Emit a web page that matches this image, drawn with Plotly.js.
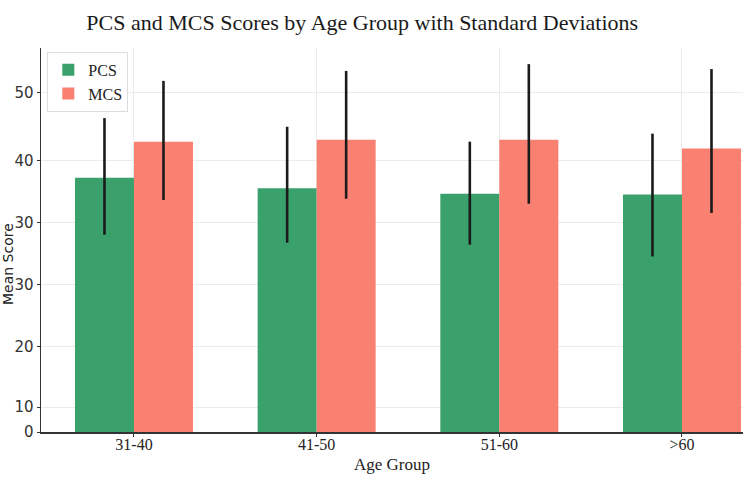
<!DOCTYPE html>
<html>
<head>
<meta charset="utf-8">
<script src="https://cdn.plot.ly/plotly-3.0.1.min.js"></script>
<style>
  html, body { margin: 0; padding: 0; background: #ffffff; }
  #chart { width: 750px; height: 500px; }
</style>
</head>
<body>
<div id="chart"></div>
<script>
// Age groups on the x axis
const ageGroups = ['31-40', '41-50', '51-60', '>60'];

// Mean scores per age group
const pcsMean = [37.3, 35.6, 34.7, 34.6];
const mcsMean = [43.1, 43.4, 43.4, 42.0];

// Standard deviation whiskers (above / below the mean)
const pcsSdUp = [9.6, 9.9, 8.4, 9.8];
const pcsSdDown = [9.2, 8.8, 8.2, 10.0];
const mcsSdUp = [9.8, 11.1, 12.2, 12.8];
const mcsSdDown = [9.4, 9.5, 10.3, 10.4];

// Y tick labels as printed along the axis
const yTickVals = [-3.71, 0.3, 10, 20, 30, 40, 51];
const yTickText = ['0', '10', '20', '30', '30', '40', '50'];

const Y_MIN = -3.71;
const Y_MAX = 58.2;

const serif = '"Liberation Serif", "DejaVu Serif", serif';
const sans = '"DejaVu Sans", Verdana, sans-serif';

function barTrace(name, means, up, down, color) {
  return {
    type: 'bar',
    name: name,
    x: ageGroups,
    base: means.map(() => Y_MIN),
    y: means.map(v => v - Y_MIN),
    marker: { color: color, line: { width: 0 } },
    error_y: {
      type: 'data',
      symmetric: false,
      array: up,
      arrayminus: down,
      color: '#1b1b1b',
      thickness: 2.6,
      width: 0
    },
    hoverinfo: 'skip'
  };
}

const data = [
  barTrace('PCS', pcsMean, pcsSdUp, pcsSdDown, '#3aa06c'),
  barTrace('MCS', mcsMean, mcsSdUp, mcsSdDown, '#fa8072')
];

const layout = {
  width: 750,
  height: 500,
  paper_bgcolor: '#ffffff',
  plot_bgcolor: '#ffffff',
  margin: { l: 41, r: 7, t: 48, b: 68 },
  barmode: 'group',
  bargap: 0.354,
  bargroupgap: 0,
  showlegend: true,
  title: {
    text: 'PCS and MCS Scores by Age Group with Standard Deviations',
    font: { family: serif, size: 22, color: '#1a1a1a' },
    x: 0.483,
    xanchor: 'center',
    xref: 'container',
    y: 0.955,
    yanchor: 'middle'
  },
  legend: {
    x: 0.009,
    y: 0.99,
    xanchor: 'left',
    yanchor: 'top',
    bgcolor: '#ffffff',
    bordercolor: '#dddddd',
    borderwidth: 1,
    font: { family: serif, size: 16, color: '#222222' },
    itemwidth: 30,
    tracegroupgap: 0,
    traceorder: 'normal'
  },
  xaxis: {
    type: 'category',
    range: [-0.509, 3.334],
    showline: true,
    linecolor: '#333333',
    linewidth: 1.5,
    ticks: 'outside',
    ticklen: 3,
    tickcolor: '#333333',
    ticklabelstandoff: -6,
    showgrid: true,
    gridcolor: '#ebebeb',
    gridwidth: 1,
    zeroline: false,
    tickfont: { family: serif, size: 16, color: '#222222' },
    title: {
      text: 'Age Group',
      font: { family: serif, size: 17, color: '#222222' },
      standoff: 6
    }
  },
  yaxis: {
    range: [Y_MIN, Y_MAX],
    tickmode: 'array',
    tickvals: yTickVals,
    ticktext: yTickText,
    showline: true,
    linecolor: '#333333',
    linewidth: 1.5,
    ticks: 'outside',
    ticklen: 3,
    tickcolor: '#333333',
    showgrid: true,
    gridcolor: '#ebebeb',
    gridwidth: 1,
    zeroline: false,
    tickfont: { family: sans, size: 15, color: '#333333' }
  },
  annotations: [{
    text: 'Mean Score',
    xref: 'paper', yref: 'paper',
    x: -33 / 702, y: (432 - 264) / 384,
    xanchor: 'center', yanchor: 'middle',
    textangle: -90,
    showarrow: false,
    font: { family: sans, size: 14, color: '#222222' }
  }]
};

Plotly.newPlot('chart', data, layout, { displayModeBar: false, staticPlot: true });
</script>
</body>
</html>
